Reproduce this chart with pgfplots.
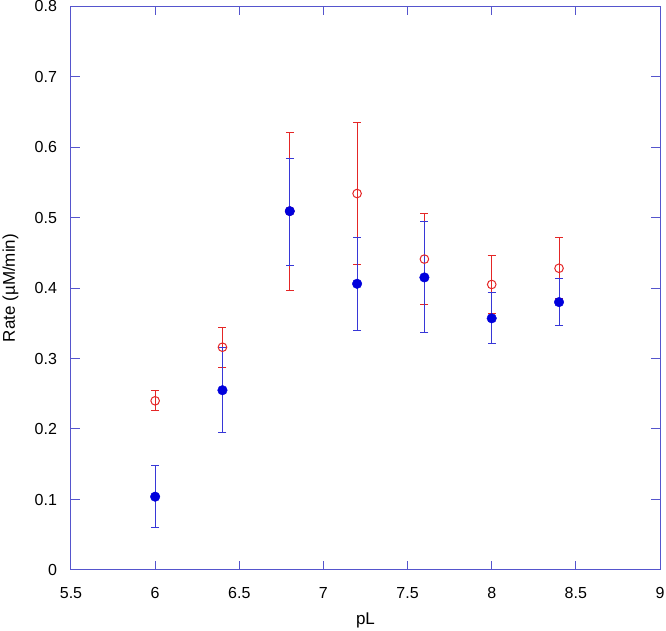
\documentclass[border=0pt]{standalone}
\usepackage{pgfplots}
\pgfplotsset{compat=1.18}
\usepackage{pgfplotstable}
\usepackage{fontspec}
\setmainfont{Liberation Sans}
\definecolor{axblue}{RGB}{85,85,205}
\definecolor{ptblue}{RGB}{0,0,220}
\definecolor{ebblue}{RGB}{55,55,215}
\definecolor{ptred}{RGB}{228,38,38}
\pgfplotstableread{
x y ep em
6.0 0.240 0.014 0.014
6.4 0.316 0.028 0.029
6.8 0.509 0.112 0.112
7.2 0.534 0.101 0.101
7.6 0.441 0.064 0.065
8.0 0.405 0.041 0.041
8.4 0.428 0.044 0.043
}\redtab
\pgfplotstableread{
x y ep em
6.0 0.104 0.044 0.044
6.4 0.255 0.060 0.060
6.8 0.509 0.075 0.077
7.2 0.406 0.066 0.066
7.6 0.415 0.079 0.078
8.0 0.357 0.037 0.036
8.4 0.380 0.034 0.033
}\bluetab
\begin{document}
\begin{tikzpicture}
\useasboundingbox (-71pt,-61pt) rectangle (595pt,570pt);
\begin{axis}[
  at={(0pt,0pt)}, anchor=south west,
  scale only axis,
  width=589pt, height=564pt,
  xmin=5.5, xmax=9, ymin=0, ymax=0.8,
  xtick={5.5,6,...,9}, ytick={0,0.1,...,0.8},
  xticklabels={5.5,6,6.5,7,7.5,8,8.5,9},
  yticklabels={0,0.1,0.2,0.3,0.4,0.5,0.6,0.7,0.8},
  tick align=inside, major tick length=9pt,
  axis line style={axblue, line width=1pt},
  every tick/.style={axblue, line width=1pt},
  tick label style={font=\fontsize{16}{18}\selectfont, black},
  xticklabel style={yshift=-14pt},
  yticklabel style={xshift=-10.5pt},
  label style={font=\fontsize{17}{19}\selectfont, black},
  xlabel={pL}, ylabel={Rate (µM/min)},
  xlabel style={at={(axis description cs:0.5,-0.0975)}, anchor=base},
  ylabel style={at={(axis description cs:-0.0951,0.5)}, anchor=base},
  /pgf/number format/assume math mode=true,
]
\addplot[only marks, mark=o, mark size=4.3pt, ptred, line width=1pt,
  error bars/.cd, y dir=both, y explicit,
  error bar style={ptred, line width=1pt},
  error mark options={rotate=90, mark size=4pt, ptred, line width=1pt}]
  table[x=x, y=y, y error plus=ep, y error minus=em]{\redtab};
\addplot[only marks, mark=*, mark size=4.8pt, ptblue, mark options={fill=ptblue, draw=ptblue},
  error bars/.cd, y dir=both, y explicit,
  error bar style={ebblue, line width=1pt},
  error mark options={rotate=90, mark size=4pt, ebblue, line width=1pt}]
  table[x=x, y=y, y error plus=ep, y error minus=em]{\bluetab};
\end{axis}
\end{tikzpicture}
\end{document}
